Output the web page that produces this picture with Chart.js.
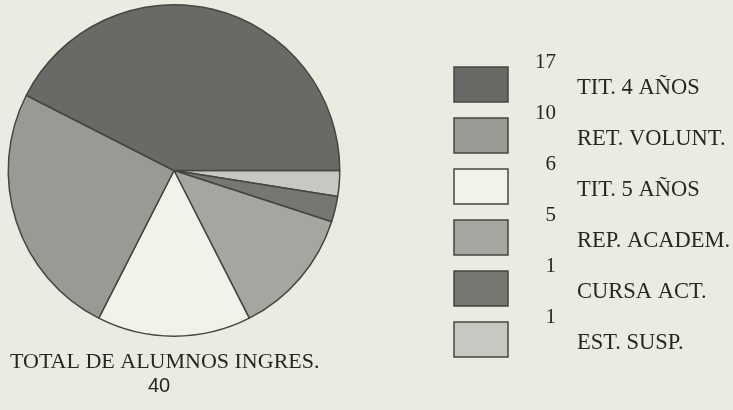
<!DOCTYPE html>
<html>
<head>
<meta charset="utf-8">
<script src="https://cdn.jsdelivr.net/npm/chart.js@4"></script>
<style>
  html, body { margin: 0; padding: 0; background: #ecebe2; }
  #wrap { width: 733px; height: 410px; }
</style>
</head>
<body>
<div id="wrap"><canvas id="c" width="733" height="410"></canvas></div>
<script>
// Alumnos ingresados por situación
const categories = ['TIT. 4 AÑOS', 'RET. VOLUNT.', 'TIT. 5 AÑOS', 'REP. ACADEM.', 'CURSA ACT.', 'EST. SUSP.'];
const counts = [17, 10, 6, 5, 1, 1];
const totalLabel = 'TOTAL DE ALUMNOS INGRES.';
const totalValue = 40;

const fills = ['#696965', '#9a9a95', '#f3f2ea', '#a6a6a1', '#777771', '#c8c8c2'];
const edge = '#454541';

// slices run clockwise from 3 o'clock, starting with the last category
const order = categories.map((_, i) => i).reverse();

const bg = {
  id: 'bg',
  beforeDraw(chart) {
    const ctx = chart.ctx;
    ctx.save();
    ctx.fillStyle = '#ecebe2';
    ctx.fillRect(0, 0, chart.width, chart.height);
    ctx.restore();
  }
};

const keyPanel = {
  id: 'keyPanel',
  afterDraw(chart) {
    const ctx = chart.ctx;
    ctx.save();
    categories.forEach((name, i) => {
      const top = 67 + i * 51;
      ctx.fillStyle = fills[i];
      ctx.fillRect(454, top, 54, 35);
      ctx.lineWidth = 1.5;
      ctx.strokeStyle = edge;
      ctx.strokeRect(454, top, 54, 35);
      ctx.fillStyle = '#262624';
      ctx.font = '21px "Liberation Serif"';
      ctx.textAlign = 'right';
      ctx.textBaseline = 'alphabetic';
      ctx.fillText(String(counts[i]), 556, top + 1);
      ctx.textAlign = 'left';
      ctx.font = '22.5px "Liberation Serif"';
      ctx.fillText(name, 577, top + 27);
    });
    ctx.textAlign = 'left';
    ctx.font = '22px "Liberation Serif"';
    ctx.fillText(totalLabel, 10, 368);
    ctx.textAlign = 'center';
    ctx.font = '20px "Liberation Sans"';
    ctx.fillText(String(totalValue), 159, 392);
    ctx.restore();
  }
};

new Chart(document.getElementById('c'), {
  type: 'pie',
  data: {
    labels: order.map(i => categories[i]),
    datasets: [{
      data: order.map(i => counts[i]),
      backgroundColor: order.map(i => fills[i]),
      borderColor: edge,
      borderWidth: 1.5
    }]
  },
  options: {
    responsive: false,
    animation: false,
    rotation: 90,
    layout: { padding: { left: 7, top: 4, right: 392, bottom: 73 } },
    plugins: {
      legend: { display: false },
      tooltip: { enabled: false }
    }
  },
  plugins: [bg, keyPanel]
});
</script>
</body>
</html>
